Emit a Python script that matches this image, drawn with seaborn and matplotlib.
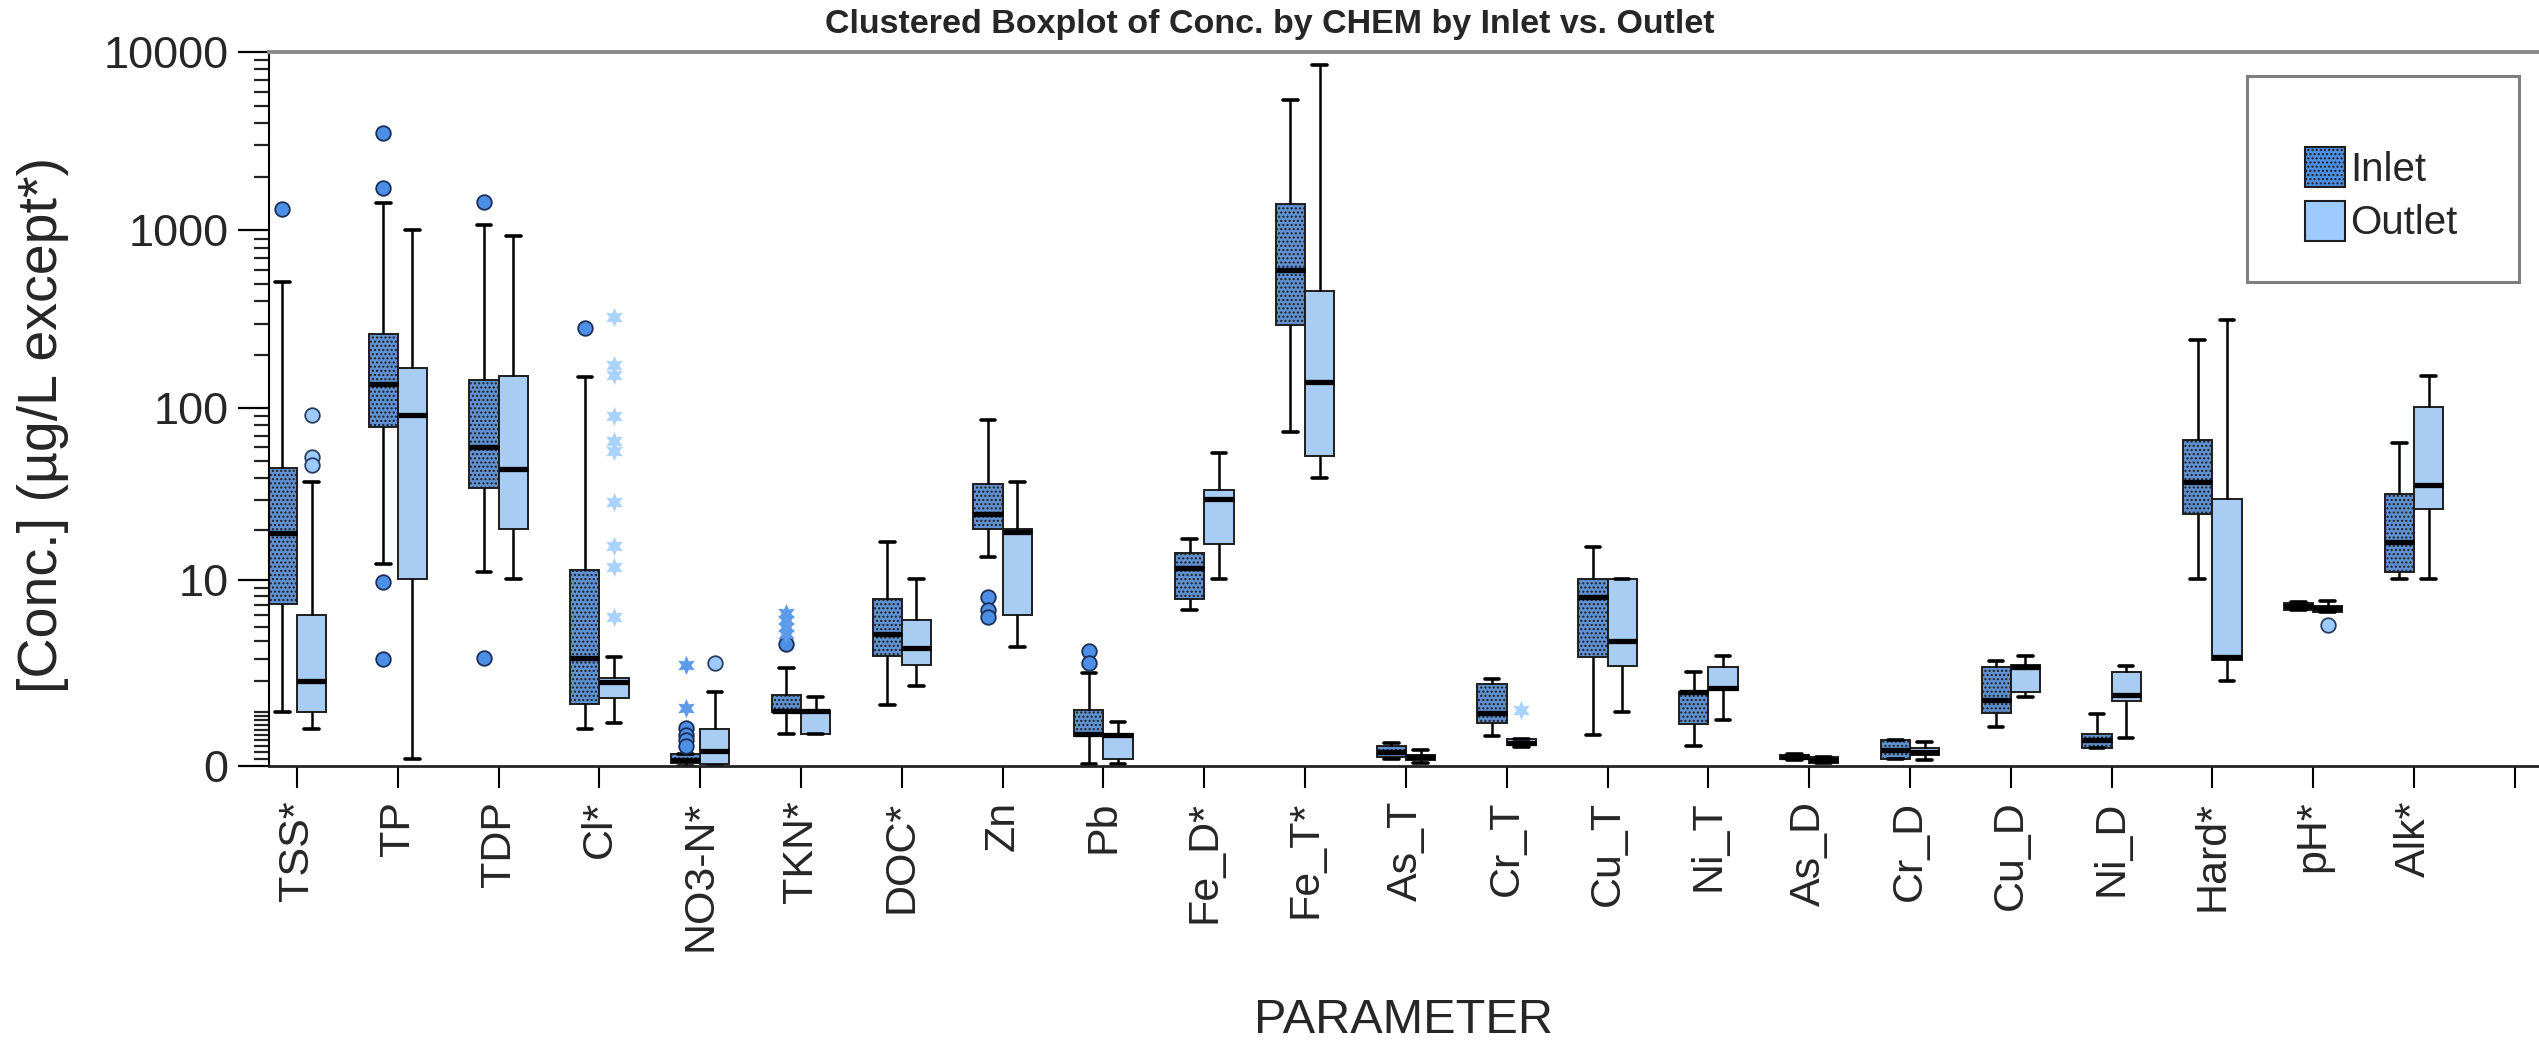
import matplotlib
matplotlib.use("Agg")
import matplotlib.pyplot as plt
import matplotlib.ticker as mticker
from matplotlib.patches import Patch, Rectangle
import seaborn as sns
import numpy as np
import pandas as pd

sns.set_style("ticks")
plt.rcParams['font.family'] = ['Liberation Sans', 'DejaVu Sans']
plt.rcParams['hatch.linewidth'] = 1.0
plt.rcParams['hatch.color'] = '#1b2f55'

# --- data (five-number summaries per parameter) ---
params = ['TSS*', 'TP', 'TDP', 'Cl*', 'NO3-N*', 'TKN*', 'DOC*', 'Zn', 'Pb', 'Fe_D*', 'Fe_T*',
          'As_T', 'Cr_T', 'Cu_T', 'Ni_T', 'As_D', 'Cr_D', 'Cu_D', 'Ni_D', 'Hard*', 'pH*', 'Alk*']

inlet_low = [1.0, 12.5, 11.2, 0.61, 0.0, 0.51, 1.2, 13.9, 0.03, 6.45, 73.8,
             0.1, 0.47, 0.49, 0.3, 0.08, 0.1, 0.65, 0.26, 10.1, 6.5, 10.1]
inlet_q1 = [7.1, 78.6, 35, 1.23, 0.04, 1.0, 3.15, 20.2, 0.47, 7.6, 293,
            0.12, 0.74, 3.1, 0.72, 0.09, 0.1, 0.98, 0.26, 24.7, 6.5, 11.2]
inlet_med = [19.3, 137, 60, 3.03, 0.08, 1.02, 4.5, 24.7, 0.51, 11.9, 598,
             0.2, 0.98, 7.9, 1.6, 0.12, 0.23, 1.35, 0.4, 37.8, 6.9, 17.1]
inlet_q3 = [45.5, 263, 145, 11.6, 0.17, 1.51, 7.6, 36.9, 1.06, 14.6, 1400,
            0.3, 1.89, 10.1, 1.61, 0.15, 0.39, 2.6, 0.51, 66, 7.2, 32.3]
inlet_high = [515, 1420, 1070, 150, 0.17, 2.53, 17.0, 85.7, 2.31, 17.8, 5400,
              0.35, 2.07, 15.8, 2.38, 0.16, 0.39, 2.89, 0.96, 243, 7.3, 63.4]

outlet_low = [0.61, 0.1, 10.1, 0.74, 0.0, 0.51, 1.81, 3.64, 0.03, 10.1, 40.3,
              0.04, 0.28, 1.0, 0.8, 0.04, 0.08, 1.45, 0.43, 2.0, 6.25, 10.1]
outlet_q1 = [1.0, 10.1, 20.2, 1.4, 0.03, 0.51, 2.69, 6.05, 0.1, 16.5, 53.7,
             0.08, 0.31, 2.65, 1.67, 0.04, 0.15, 1.61, 1.3, 2.9, 6.3, 26.4]
outlet_med = [2.0, 91.5, 45.4, 1.97, 0.22, 1.02, 3.57, 19.5, 0.5, 30.5, 141,
              0.12, 0.35, 3.99, 1.73, 0.08, 0.2, 2.6, 1.51, 3.1, 6.7, 36.4]
outlet_q3 = [6.05, 169, 152, 2.13, 0.62, 1.02, 5.6, 20.2, 0.51, 34.2, 455,
             0.15, 0.41, 10.1, 2.58, 0.12, 0.26, 2.69, 2.38, 30.5, 6.85, 101]
outlet_high = [38, 1000, 925, 3.1, 1.61, 1.43, 10.1, 38, 0.77, 55.6, 8490,
               0.23, 0.42, 10.1, 3.15, 0.12, 0.37, 3.11, 2.65, 315, 7.4, 153]

# outliers (circles) and extremes (stars)
inlet_circle_cat = ['TSS*', 'TP', 'TP', 'TP', 'TP', 'TDP', 'TDP', 'Cl*',
                    'NO3-N*', 'NO3-N*', 'NO3-N*', 'NO3-N*', 'TKN*', 'Zn', 'Zn', 'Zn', 'Pb', 'Pb']
inlet_circle_val = [1320, 3500, 1720, 9.8, 3.0, 1435, 3.05, 284,
                    0.63, 0.5, 0.4, 0.3, 3.8, 7.8, 6.5, 5.8, 3.38, 2.77]
inlet_star_cat = ['NO3-N*', 'NO3-N*', 'TKN*', 'TKN*', 'TKN*', 'TKN*']
inlet_star_val = [2.69, 1.1, 6.2, 5.6, 5.0, 4.5]

outlet_circle_cat = ['TSS*', 'TSS*', 'TSS*', 'NO3-N*', 'pH*']
outlet_circle_val = [92, 52.5, 47.5, 2.77, 5.2]
outlet_star_cat = ['Cl*'] * 10 + ['Cr_T']
outlet_star_val = [325, 175, 155, 90, 65, 57, 29, 16, 12, 5.8, 1.06]

locations = ['Inlet', 'Outlet']
colors = {'Inlet': '#4d8fe6', 'Outlet': '#9dcbff'}

# build long table: each group's whisker ends, quartiles and median
rows = []
for loc, summ in [('Inlet', [inlet_low, inlet_q1, inlet_med, inlet_q3, inlet_high]),
                  ('Outlet', [outlet_low, outlet_q1, outlet_med, outlet_q3, outlet_high])]:
    for i, p in enumerate(params):
        for s in summ:
            rows.append({'PARAMETER': p, 'Location': loc, 'Conc': s[i]})
df = pd.DataFrame(rows)

W = 0.58
off = {'Inlet': -W / 4, 'Outlet': W / 4}
pidx = {p: i for i, p in enumerate(params)}


def outlier_frame(cats, vals, loc):
    return pd.DataFrame({'pos': [pidx[c] + off[loc] for c in cats], 'Conc': vals, 'Location': loc})


fig = plt.figure(figsize=(25.39, 10.40), dpi=100)
ax = fig.add_axes([269 / 2539, 1 - 766 / 1040, (2539 - 269) / 2539, (766 - 52) / 1040])

sns.boxplot(data=df, x='PARAMETER', y='Conc', hue='Location', order=params, hue_order=locations,
            palette=colors, width=W, gap=0, whis=(0, 100), showfliers=False,
            linecolor='black', linewidth=1.4, legend=False, ax=ax,
            medianprops=dict(linewidth=3.8, color='black'),
            whiskerprops=dict(linewidth=1.8, color='black'),
            capprops=dict(linewidth=2.6, color='black'))

# hatch the inlet boxes
for cont, hatch in zip(ax.containers, ['....', '']):
    for b in cont.boxes:
        b.set_hatch(hatch)
        b.set_edgecolor('#1e1e1e')

sns.scatterplot(data=outlier_frame(inlet_circle_cat, inlet_circle_val, 'Inlet'), x='pos', y='Conc',
                color=colors['Inlet'], marker='o', s=110, edgecolor='#1b2f55', linewidth=1.3,
                legend=False, ax=ax, zorder=5)
sns.scatterplot(data=outlier_frame(outlet_circle_cat, outlet_circle_val, 'Outlet'), x='pos', y='Conc',
                color=colors['Outlet'], marker='o', s=110, edgecolor='#2a3f60', linewidth=1.3,
                legend=False, ax=ax, zorder=5)
sns.scatterplot(data=outlier_frame(inlet_star_cat, inlet_star_val, 'Inlet'), x='pos', y='Conc',
                color='#5d9be8', marker=(6, 1, 0), s=190, linewidth=0, legend=False, ax=ax, zorder=5)
sns.scatterplot(data=outlier_frame(outlet_star_cat, outlet_star_val, 'Outlet'), x='pos', y='Conc',
                color='#a9d3ff', marker=(6, 1, 0), s=190, linewidth=0, legend=False, ax=ax, zorder=5)


# SPSS-style "safe log" axis: log10(x + 1)
def fwd(x):
    return np.log10(np.maximum(x, 0) + 1)


def inv(y):
    return 10 ** y - 1


ax.set_yscale('function', functions=(fwd, inv))
ax.set_ylim(0, 10000)
ax.set_xlim(-0.278, 22.24)

ax.yaxis.set_major_locator(mticker.FixedLocator([0, 10, 100, 1000, 10000]))
ax.yaxis.set_major_formatter(mticker.FixedFormatter(['0', '10', '100', '1000', '10000']))
minor = [round(k * 10.0 ** e, 3) for e in range(-1, 4) for k in range(1, 10)]
minor = [m for m in minor if m not in (10, 100, 1000)]
ax.yaxis.remove_overlapping_locs = False
ax.yaxis.set_minor_locator(mticker.FixedLocator(minor))
ax.yaxis.set_minor_formatter(mticker.NullFormatter())

ax.set_xticks(range(len(params) + 1))
ax.set_xticklabels(params + [''], rotation=90, fontsize=31)
ax.tick_params(axis='x', length=16, width=1.5, pad=9, color='black')
ax.tick_params(axis='y', which='major', length=22, width=1.6, pad=7, labelsize=32.5, color='black')
ax.tick_params(axis='y', which='minor', left=True, length=11, width=1.6, color='#222222')

ax.set_ylabel('[Conc.] (µg/L except*)', fontsize=40)
ax.yaxis.set_label_coords(-0.088, 0.478)
ax.set_xlabel('PARAMETER', fontsize=35, labelpad=34)

ax.spines['right'].set_visible(False)
ax.spines['left'].set_linewidth(1.5)
ax.spines['left'].set_color('black')
ax.spines['bottom'].set_linewidth(2.0)
ax.spines['bottom'].set_color('#222222')
ax.spines['top'].set_linewidth(2.8)
ax.spines['top'].set_color('#8a8a8a')
ax.grid(False)

fig.text(1270 / 2539, 1 - 25 / 1040, 'Clustered Boxplot of Conc. by CHEM by Inlet vs. Outlet',
         ha='center', va='center', fontsize=24.5, fontweight='bold')

# legend with a loose frame
handles = [Patch(facecolor=colors['Inlet'], edgecolor='#1e1e1e', hatch='....', linewidth=1.5),
           Patch(facecolor=colors['Outlet'], edgecolor='#1e1e1e', linewidth=1.5)]
ax.legend(handles, locations, loc='upper left', bbox_to_anchor=(2305 / 2539, 1 - 147 / 1040),
          bbox_transform=fig.transFigure, frameon=False, fontsize=29, handlelength=1.0,
          handleheight=1.15, handletextpad=0.12, labelspacing=0.3, borderpad=0, borderaxespad=0)
fig.add_artist(Rectangle((2247 / 2539, 1 - 282 / 1040), 272 / 2539, 206 / 1040,
                         transform=fig.transFigure, fill=False, edgecolor='#7f7f7f', linewidth=2.2))

fig.savefig('out.png', dpi=100)
